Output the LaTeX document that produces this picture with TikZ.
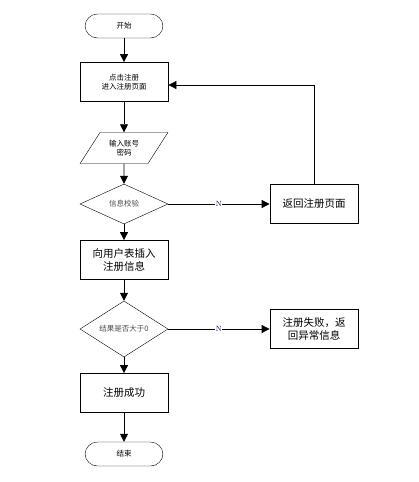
\documentclass[tikz,border=0pt]{standalone}
\usepackage{fontspec}
\newfontfamily\cjk{Noto Sans CJK SC}
\usetikzlibrary{positioning,arrows.meta,shapes.geometric}

\begin{document}
\begin{tikzpicture}[
  x=1pt, y=-1pt,
  font=\cjk,
  term/.style={draw, rounded corners=12.5pt, minimum width=78pt, minimum height=24pt, inner sep=0pt, font=\cjk\fontsize{7.5}{9}\selectfont},
  proc/.style={draw, thick, minimum width=88pt, minimum height=39pt, inner sep=0pt, align=center, font=\cjk\fontsize{7.5}{9}\selectfont},
  bigproc/.style={proc, font=\cjk\fontsize{10.5}{13}\selectfont},
  io/.style={draw, trapezium, trapezium left angle=52, trapezium right angle=128, trapezium stretches=true, minimum width=88pt, minimum height=31pt, inner sep=0pt, align=center, font=\cjk\fontsize{7.5}{9}\selectfont},
  test/.style={draw, diamond, minimum width=88pt, minimum height=40pt, inner sep=0pt, font=\cjk\fontsize{7.5}{9}\selectfont, text=black!70},
  arrow/.style={-{Triangle[length=8pt,width=8pt]}, thick},
  lbl/.style={fill=white, inner sep=0.5pt, font=\fontsize{7.5}{9}\selectfont, text=blue!40!black}
]
\useasboundingbox (0,0) rectangle (418,482);

\node[term] (start) at (124,26) {开始};
\node[proc] (click) at (124,82) {点击注册\\进入注册页面};
\node[io] (input) at (124,148) {输入账号\\密码};
\node[test] (check) at (124,204) {信息校验};
\node[bigproc] (back) at (314,204) {返回注册页面};
\node[bigproc] (insert) at (124,260) {向用户表插入\\注册信息};
\node[test] (result) at (124,329) {结果是否大于0};
\node[bigproc] (fail) at (314,329) {注册失败，返\\回异常信息};
\node[bigproc] (success) at (124,393) {注册成功};
\node[term] (stop) at (124,454) {结束};

\draw[arrow] (start) -- (click);
\draw[arrow] (click) -- (input);
\draw[arrow] (input) -- (check);
\draw[arrow] (check) -- node[lbl]{N} (back);
\draw[arrow] (back.north) |- ([yshift=-3pt]click.east);
\draw[arrow] (check) -- (insert);
\draw[arrow] (insert) -- (result);
\draw[arrow] (result) -- node[lbl]{N} (fail);
\draw[arrow] (result) -- (success);
\draw[arrow] (success) -- (stop);
\end{tikzpicture}
\end{document}
